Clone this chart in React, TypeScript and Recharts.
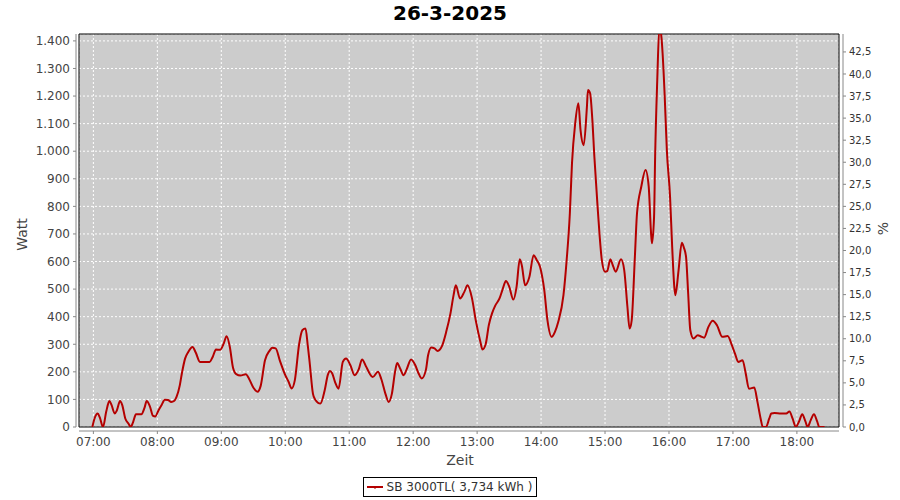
import { LineChart, Line, XAxis, YAxis, CartesianGrid, ReferenceArea, Legend } from 'recharts';

// Messpunkte (Uhrzeit, Watt)
const times = [
  '06:59', '07:01', '07:04', '07:06', '07:09', '07:12', '07:15', '07:17', '07:20', '07:22',
  '07:25', '07:27', '07:30', '07:33', '07:35', '07:37', '07:40', '07:45', '07:48', '07:50',
  '07:53', '07:56', '07:58', '08:01', '08:04', '08:07', '08:10', '08:13', '08:16', '08:18',
  '08:21', '08:23', '08:26', '08:29', '08:33', '08:36', '08:40', '08:45', '08:49', '08:52',
  '08:55', '08:59', '09:02', '09:05', '09:08', '09:11', '09:14', '09:18', '09:23', '09:26',
  '09:30', '09:34', '09:37', '09:41', '09:45', '09:48', '09:51', '09:55', '10:00', '10:03',
  '10:06', '10:09', '10:13', '10:16', '10:19', '10:21', '10:23', '10:26', '10:28', '10:33',
  '10:37', '10:40', '10:42', '10:44', '10:47', '10:50', '10:54', '10:57', '11:01', '11:05',
  '11:09', '11:12', '11:16', '11:19', '11:22', '11:27', '11:30', '11:34', '11:37', '11:40',
  '11:43', '11:45', '11:48', '11:51', '11:54', '11:58', '12:02', '12:05', '12:08', '12:12',
  '12:14', '12:17', '12:20', '12:23', '12:27', '12:31', '12:35', '12:38', '12:40', '12:44',
  '12:48', '12:51', '12:55', '12:59', '13:03', '13:05', '13:08', '13:11', '13:14', '13:17',
  '13:21', '13:24', '13:27', '13:30', '13:34', '13:37', '13:40', '13:42', '13:45', '13:49',
  '13:53', '13:56', '13:59', '14:03', '14:06', '14:10', '14:13', '14:16', '14:21', '14:24',
  '14:27', '14:29', '14:32', '14:35', '14:37', '14:40', '14:43', '14:44', '14:46', '14:48',
  '14:50', '14:53', '14:55', '14:57', '15:00', '15:02', '15:05', '15:07', '15:10', '15:15',
  '15:18', '15:21', '15:23', '15:25', '15:28', '15:30', '15:34', '15:38', '15:41', '15:43',
  '15:44', '15:46', '15:47', '15:49', '15:51', '15:53', '15:54', '15:56', '15:58', '16:01',
  '16:03', '16:05', '16:06', '16:09', '16:12', '16:14', '16:16', '16:18', '16:20', '16:23',
  '16:27', '16:30', '16:33', '16:37', '16:41', '16:45', '16:50', '16:55', '16:59', '17:02',
  '17:05', '17:09', '17:12', '17:15', '17:20', '17:23', '17:26', '17:28', '17:31', '17:34',
  '17:36', '17:39', '17:45', '17:50', '17:53', '17:56', '17:59', '18:02', '18:05', '18:08',
  '18:10', '18:13', '18:16', '18:19', '18:21', '18:26',
];

const watts = [
  0, 30, 49, 35, 0, 55, 94, 80, 49, 60,
  94, 80, 30, 12, 0, 15, 46, 46, 70, 94,
  75, 40, 38, 60, 80, 99, 98, 91, 95, 109,
  150, 194, 248, 272, 290, 270, 236, 236, 236, 255,
  281, 280, 300, 329, 290, 215, 192, 187, 191, 175,
  143, 128, 150, 242, 275, 287, 285, 240, 188, 165,
  140, 170, 300, 351, 357, 300, 230, 120, 100, 85,
  133, 190, 203, 195, 160, 139, 236, 248, 225, 188,
  210, 245, 218, 195, 181, 200, 175, 120, 91, 120,
  200, 232, 210, 188, 210, 245, 224, 195, 176, 208,
  260, 288, 285, 276, 293, 345, 412, 480, 514, 466,
  490, 514, 470, 381, 310, 281, 300, 370, 412, 440,
  466, 500, 529, 510, 462, 508, 608, 585, 514, 544,
  623, 605, 581, 496, 387, 327, 345, 380, 478, 605,
  775, 956, 1100, 1174, 1077, 1022, 1161, 1222, 1210, 1120,
  980, 800, 690, 605, 563, 565, 608, 590, 563, 608,
  569, 436, 357, 387, 617, 775, 871, 932, 871, 714,
  666, 762, 980, 1258, 1450, 1410, 1355, 1198, 1004, 835,
  653, 508, 478, 569, 668, 650, 617, 484, 351, 321,
  333, 328, 324, 363, 385, 369, 327, 330, 297, 265,
  236, 242, 194, 139, 143, 91, 30, 0, 0, 30,
  49, 51, 49, 49, 56, 30, 0, 20, 46, 20,
  0, 25, 46, 20, 0, 0,
];

const hourTicks = [420, 480, 540, 600, 660, 720, 780, 840, 900, 960, 1020, 1080];
const wattTicks = [0, 100, 200, 300, 400, 500, 600, 700, 800, 900, 1000, 1100, 1200, 1300, 1400];
const pctTicks = [0, 2.5, 5, 7.5, 10, 12.5, 15, 17.5, 20, 22.5, 25, 27.5, 30, 32.5, 35, 37.5, 40, 42.5];

const toMin = (t: string) => {
  const [h, m] = t.split(':').map(Number);
  return h * 60 + m;
};

const data = times.map((t, i) => ({ min: toMin(t), watt: watts[i] }));

const X_MIN = 406.5;
const X_MAX = 1119.5;
const W_MAX = 1425;
const P_MAX = (W_MAX / 3200) * 100;

const FONT = '"DejaVu Sans", sans-serif';
const axisGray = '#888888';

const fmtHour = (v: number) => `${String(Math.floor(v / 60)).padStart(2, '0')}:00`;
const fmtWatt = (v: number) => (v >= 1000 ? `${Math.floor(v / 1000)}.${String(v % 1000).padStart(3, '0')}` : String(v));
const fmtPct = (v: number) => v.toFixed(1).replace('.', ',');

const LegendBox = () => (
  <div style={{ display: 'flex', justifyContent: 'center', paddingTop: 5 }}>
    <div
      style={{
        border: '1px solid #000',
        height: 18,
        padding: '0 4px 0 3px',
        display: 'flex',
        alignItems: 'center',
        fontFamily: FONT,
        fontSize: 12,
        color: '#333',
      }}
    >
      <svg width={16} height={10} style={{ marginRight: 4 }}>
        <line x1={0} y1={5} x2={16} y2={5} stroke="#b40000" strokeWidth={2} />
        <line x1={8} y1={5} x2={8} y2={7} stroke="#b40000" strokeWidth={1} />
      </svg>
      SB 3000TL( 3,734 kWh )
    </div>
  </div>
);

export default function App() {
  return (
    <div style={{ position: 'absolute', left: 0, top: 0, width: 900, height: 500, background: '#fff' }}>
      <div
        style={{
          position: 'absolute',
          left: 0,
          top: 0,
          width: 900,
          textAlign: 'center',
          fontFamily: FONT,
          fontWeight: 'bold',
          fontSize: 20,
          lineHeight: '26px',
          color: '#000',
        }}
      >
        26-3-2025
      </div>
      <LineChart width={900} height={500} data={data} margin={{ top: 34, right: 0, bottom: 0, left: 0 }}>
        <CartesianGrid
          yAxisId="w"
          fill="#cccccc"
          stroke="#ffffff"
          strokeDasharray="2 2"
          strokeWidth={1}
        />
        <XAxis
          dataKey="min"
          type="number"
          domain={[X_MIN, X_MAX]}
          ticks={hourTicks}
          tickFormatter={fmtHour}
          allowDataOverflow
          height={45}
          tickSize={3}
          tickMargin={7}
          axisLine={{ stroke: axisGray, transform: 'translate(0,4)' }}
          tickLine={{ stroke: axisGray, transform: 'translate(0,4)' }}
          tick={{ fill: '#444', fontSize: 12, fontFamily: FONT }}
          label={{
            content: (p: any) => (
              <text
                x={p.viewBox.x + p.viewBox.width / 2 + 1}
                y={p.viewBox.y + 33}
                textAnchor="middle"
                dominantBaseline="central"
                fill="#444"
                fontSize={14}
                fontFamily={FONT}
              >
                Zeit
              </text>
            ),
          }}
        />
        <YAxis
          yAxisId="w"
          type="number"
          domain={[0, W_MAX]}
          ticks={wattTicks}
          tickFormatter={fmtWatt}
          allowDataOverflow
          width={79}
          tickSize={3}
          tickMargin={6}
          axisLine={{ stroke: axisGray, transform: 'translate(-3,0)' }}
          tickLine={{ stroke: axisGray, transform: 'translate(-3,0)' }}
          tick={{ fill: '#444', fontSize: 12, fontFamily: FONT }}
          label={{
            content: (p: any) => {
              const cx = p.viewBox.x + 22;
              const cy = p.viewBox.y + p.viewBox.height / 2 + 4;
              return (
                <text
                  x={cx}
                  y={cy}
                  transform={`rotate(-90 ${cx} ${cy})`}
                  textAnchor="middle"
                  dominantBaseline="central"
                  fill="#444"
                  fontSize={14}
                  fontFamily={FONT}
                >
                  Watt
                </text>
              );
            },
          }}
        />
        <YAxis
          yAxisId="p"
          orientation="right"
          type="number"
          domain={[0, P_MAX]}
          ticks={pctTicks}
          tickFormatter={fmtPct}
          allowDataOverflow
          width={61}
          tickSize={3}
          tickMargin={7}
          axisLine={{ stroke: axisGray, transform: 'translate(4,0)' }}
          tickLine={{ stroke: axisGray, transform: 'translate(4,0)' }}
          tick={{ fill: '#333', fontSize: 10, fontFamily: FONT }}
          label={{
            content: (p: any) => {
              const cx = p.viewBox.x + 44;
              const cy = p.viewBox.y + p.viewBox.height / 2 - 2;
              return (
                <text
                  x={cx}
                  y={cy}
                  transform={`rotate(-90 ${cx} ${cy})`}
                  textAnchor="middle"
                  dominantBaseline="central"
                  fill="#444"
                  fontSize={14}
                  fontFamily={FONT}
                >
                  %
                </text>
              );
            },
          }}
        />
        <Line
          yAxisId="w"
          dataKey="watt"
          type="monotone"
          stroke="#b40000"
          strokeWidth={2}
          dot={false}
          isAnimationActive={false}
        />
        <ReferenceArea
          yAxisId="w"
          x1={X_MIN}
          x2={X_MAX}
          y1={0}
          y2={W_MAX}
          fill="none"
          stroke="#000"
          strokeWidth={1}
        />
        <Legend verticalAlign="bottom" height={28} content={<LegendBox />} />
      </LineChart>
    </div>
  );
}
